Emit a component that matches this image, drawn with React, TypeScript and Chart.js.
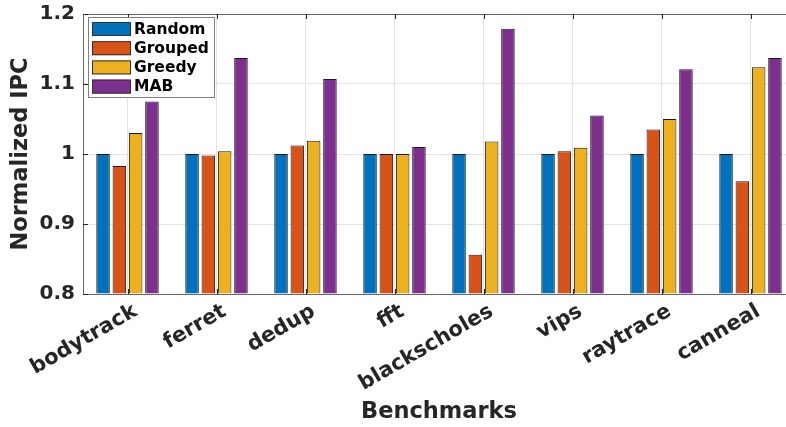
import React, { useEffect, useRef } from "react";
import { Chart, registerables } from "chart.js";

Chart.register(...registerables);

const categories = ["bodytrack", "ferret", "dedup", "fft", "blackscholes", "vips", "raytrace", "canneal"];
const seriesNames = ["Random", "Grouped", "Greedy", "MAB"];
const randomVals = [1, 1, 1, 1, 1, 1, 1, 1];
const groupedVals = [0.983, 0.998, 1.012, 1.0, 0.856, 1.004, 1.035, 0.961];
const greedyVals = [1.03, 1.004, 1.019, 1.0, 1.018, 1.009, 1.05, 1.124];
const mabVals = [1.075, 1.137, 1.107, 1.01, 1.179, 1.055, 1.121, 1.137];
const colors = ["#0072BD", "#D95319", "#EDB120", "#7E2F8E"];
const yTicks = [0.8, 0.9, 1.0, 1.1, 1.2];

const FONT = "'DejaVu Sans', sans-serif";
const TEXT = "#262626";

const framePlugin = {
  id: "frame",
  afterDatasetsDraw(chart: any) {
    const { ctx, chartArea } = chart;
    const { left, right, top, bottom } = chartArea;
    const xs = chart.scales.x;
    const ys = chart.scales.y;
    ctx.save();
    ctx.strokeStyle = "#666666";
    ctx.lineWidth = 1;
    ctx.beginPath();
    ctx.moveTo(left, top + 0.5);
    ctx.lineTo(right, top + 0.5);
    ctx.stroke();
    ctx.strokeStyle = "#262626";
    ctx.beginPath();
    for (let i = 0; i < categories.length; i++) {
      const px = Math.round(xs.getPixelForValue(i)) + 0.5;
      ctx.moveTo(px, top);
      ctx.lineTo(px, top + 5);
      ctx.moveTo(px, bottom);
      ctx.lineTo(px, bottom - 5);
    }
    for (const v of yTicks) {
      const py = Math.round(ys.getPixelForValue(v)) + 0.5;
      ctx.moveTo(left, py);
      ctx.lineTo(left + 5, py);
    }
    ctx.stroke();
    ctx.restore();
  },
  afterDraw(chart: any) {
    const { ctx, chartArea } = chart;
    const bx = chartArea.left + 5;
    const by = chartArea.top + 3;
    const bw = 126;
    const bh = 80;
    ctx.save();
    ctx.fillStyle = "#ffffff";
    ctx.fillRect(bx, by, bw, bh);
    ctx.strokeStyle = "#808080";
    ctx.lineWidth = 1;
    ctx.strokeRect(bx + 0.5, by + 0.5, bw, bh);
    ctx.font = `bold 15.5px ${FONT}`;
    ctx.textBaseline = "middle";
    ctx.textAlign = "left";
    chart.data.datasets.forEach((ds: any, i: number) => {
      const sy = by + 5 + i * 19.2;
      ctx.fillStyle = ds.backgroundColor;
      ctx.fillRect(bx + 4, sy, 39, 14);
      ctx.strokeStyle = "#333333";
      ctx.strokeRect(bx + 4.5, sy + 0.5, 38, 13);
      ctx.fillStyle = "#000000";
      ctx.fillText(ds.label, bx + 46, sy + 7.5);
    });
    ctx.restore();
  },
};

export default function App() {
  const ref = useRef<HTMLCanvasElement | null>(null);
  useEffect(() => {
    if (!ref.current) return;
    const values = [randomVals, groupedVals, greedyVals, mabVals];
    const chart = new Chart(ref.current, {
      type: "bar",
      data: {
        labels: categories,
        datasets: seriesNames.map((name, i) => ({
          label: name,
          data: values[i],
          backgroundColor: colors[i],
          borderColor: "#1a1a1a",
          borderWidth: 1,
          categoryPercentage: 0.733,
          barPercentage: 0.83,
          base: 0.8,
        })),
      },
      options: {
        responsive: false,
        animation: false,
        devicePixelRatio: 1,
        layout: { padding: { top: 14, left: 0, right: 0, bottom: 0 } },
        plugins: { legend: { display: false }, tooltip: { enabled: false } },
        scales: {
          x: {
            offset: true,
            grid: { display: true, offset: false, color: "#e3e3e3", drawTicks: false },
            border: { display: true, color: "#666666" },
            ticks: {
              font: { family: FONT, size: 21, weight: "bold" },
              color: TEXT,
              minRotation: 30,
              maxRotation: 30,
              autoSkip: false,
              padding: 5,
              labelOffset: 8,
            },
            title: {
              display: true,
              text: "Benchmarks",
              font: { family: FONT, size: 22.5, weight: "bold" },
              color: TEXT,
              padding: { top: 0, bottom: 1.5 },
            },
            afterFit: (s: any) => {
              s.height = 133;
              s.paddingLeft = 0;
              s.paddingRight = 0;
            },
          },
          y: {
            min: 0.8,
            max: 1.2,
            grid: { color: "#e3e3e3", drawTicks: false },
            border: { display: true, color: "#666666" },
            ticks: {
              stepSize: 0.1,
              font: { family: FONT, size: 20, weight: "bold" },
              color: TEXT,
              padding: 8,
              callback: (v: any) => {
                const n = Math.round(Number(v) * 10) / 10;
                return n === 1 ? "1" : n.toFixed(1);
              },
            },
            title: {
              display: true,
              text: "Normalized IPC",
              font: { family: FONT, size: 22.5, weight: "bold" },
              color: TEXT,
              padding: { top: 8, bottom: 0 },
            },
            afterFit: (s: any) => {
              s.width = 83;
              s.paddingTop = 0;
              s.paddingBottom = 0;
            },
          },
        },
      },
      plugins: [framePlugin],
    });
    return () => chart.destroy();
  }, []);
  return (
    <div style={{ position: "fixed", left: 0, top: 0, width: 786, height: 427, overflow: "hidden", background: "#fff" }}>
      <canvas ref={ref} width={795} height={427} style={{ width: 795, height: 427, display: "block" }} />
    </div>
  );
}
